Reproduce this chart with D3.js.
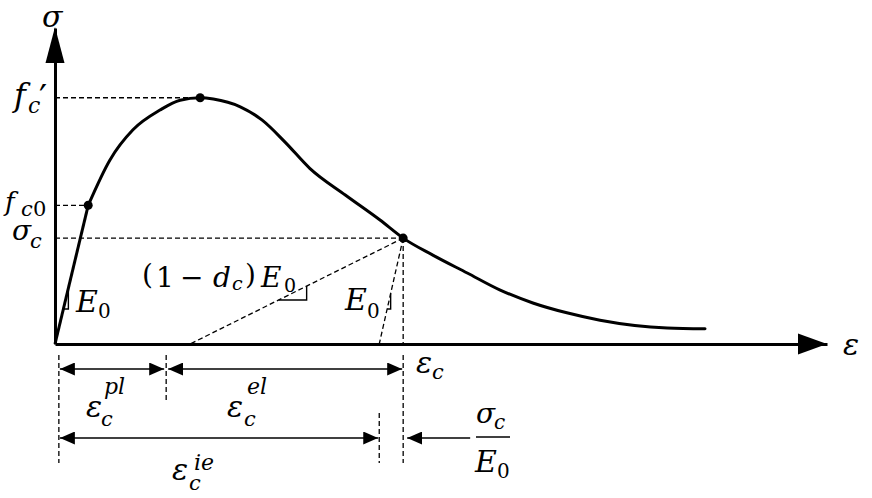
<!DOCTYPE html>
<html><head><meta charset="utf-8">
<script src="https://cdn.jsdelivr.net/npm/d3@7"></script>
<style>body{margin:0;background:#fff} svg{display:block}</style>
</head><body><svg id="c" width="872" height="498"></svg>
<script>
// ---- data (normalised strain / stress units) ----
const curveStrain = [0, 4.3, 7.1, 10.1, 13.6, 16.2, 18.8, 20.5, 24.0, 26.8, 29.8, 33.0, 37.6, 42.1, 45.1, 49.0, 53.4, 57.6, 61.9, 66.3, 70.6, 79.3, 84.2];
const curveStress = [0, 16.9, 22.4, 26.1, 28.5, 29.7, 30.0, 29.85, 28.9, 27.3, 24.6, 21.4, 18.15, 15.1, 12.9, 10.8, 8.65, 6.6, 5.0, 3.8, 2.9, 1.95, 1.85];
const keyNames  = ["fc0", "fc'", "sigma_c"];
const keyStrain = [4.3, 18.8, 45.1];
const keyStress = [16.9, 30.0, 12.9];
const unloadNames  = ["(1-dc)E0", "E0"];
const unloadStrain = [17.5, 42.0];          // strain where the unloading lines reach zero stress
const dimNames  = ["origin", "pl", "ie", "c"];
const dimStrain = [0.5, 14.4, 42.0, 45.1];  // dimension-line positions under the axis
const axisMax = [100, 38.5];

// ---- setup ----
const svg = d3.select("#c");
const x = d3.scaleLinear().domain([0, axisMax[0]]).range([55, 827]);
const y = d3.scaleLinear().domain([0, axisMax[1]]).range([344, 28]);
const FONT = "'DejaVu Serif', serif";

const defs = svg.append("defs");
function marker(id, len, hw) {
  defs.append("marker").attr("id", id).attr("markerUnits", "userSpaceOnUse")
    .attr("viewBox", `0 ${-hw} ${len} ${2*hw}`).attr("refX", len).attr("refY", 0)
    .attr("markerWidth", len).attr("markerHeight", 2*hw).attr("orient", "auto-start-reverse")
    .append("path").attr("d", `M0,${-hw}L${len},0L0,${hw}Z`).attr("fill", "#000");
}
marker("ah", 15, 6.5);

// ---- axes ----
const gx = svg.append("g").attr("transform", `translate(0,${y(0)})`)
  .call(d3.axisBottom(x).tickValues([]).tickSizeOuter(0));
gx.select(".domain").attr("stroke", "#000").attr("stroke-width", 3);
const gy = svg.append("g").attr("transform", `translate(${x(0)},0)`)
  .call(d3.axisLeft(y).tickValues([]).tickSizeOuter(0));
gy.select(".domain").attr("stroke", "#000").attr("stroke-width", 3);
svg.append("path").attr("d", `M${x(axisMax[0])},${y(0)}L${x(axisMax[0])-29},${y(0)-10.5}L${x(axisMax[0])-29},${y(0)+10.5}Z`).attr("fill", "#000");
svg.append("path").attr("d", `M${x(0)},${y(axisMax[1])-1}L${x(0)-9.5},${y(axisMax[1])+35}L${x(0)+9.5},${y(axisMax[1])+35}Z`).attr("fill", "#000");

// ---- dashed guides ----
const dash = (x1, y1, x2, y2) => svg.append("line").attr("x1", x1).attr("y1", y1).attr("x2", x2).attr("y2", y2)
  .attr("stroke", "#000").attr("stroke-width", 1.3).attr("stroke-dasharray", "5,3");
keyStrain.forEach((s, i) => dash(x(0), y(keyStress[i]), x(s), y(keyStress[i])));
dash(x(keyStrain[2]), y(keyStress[2]), x(keyStrain[2]), y(0));
unloadStrain.forEach(s => dash(x(keyStrain[2]), y(keyStress[2]), x(s), y(0)));

// ---- main curve ----
const pts = curveStrain.map((s, i) => [x(s), y(curveStress[i])]);
svg.append("path").attr("d", d3.line()(pts.slice(0, 2)))
  .attr("fill", "none").attr("stroke", "#000").attr("stroke-width", 3);
svg.append("path").attr("d", d3.line().curve(d3.curveMonotoneX)(pts.slice(1)))
  .attr("fill", "none").attr("stroke", "#000").attr("stroke-width", 3).attr("stroke-linecap", "round");
svg.selectAll("circle.key").data(keyStrain).join("circle").attr("class", "key")
  .attr("cx", d => x(d)).attr("cy", (d, i) => y(keyStress[i])).attr("r", 4.5).attr("fill", "#000");

// ---- slope triangles ----
function slopeTri(p0, p1, yAt, dx) {
  const slope = (p1[1] - p0[1]) / (p1[0] - p0[0]);
  const px = p0[0] + (yAt - p0[1]) / slope;
  svg.append("path").attr("d", `M${px},${yAt}L${px+dx},${yAt}L${px+dx},${yAt + slope*dx}`)
    .attr("fill", "none").attr("stroke", "#000").attr("stroke-width", 1.4);
}
slopeTri(pts[0], pts[1], 309, 5);
slopeTri([x(unloadStrain[0]), y(0)], [x(keyStrain[2]), y(keyStress[2])], 300, 28);
slopeTri([x(unloadStrain[1]), y(0)], [x(keyStrain[2]), y(keyStress[2])], 309, 3.5);

// ---- dimension lines ----
const base = y(0);
dash(x(dimStrain[0]), base + 11, x(dimStrain[0]), base + 119);
dash(x(dimStrain[1]), base + 11, x(dimStrain[1]), base + 59);
dash(x(dimStrain[2]), base + 69, x(dimStrain[2]), base + 119);
dash(x(dimStrain[3]), base + 11, x(dimStrain[3]), base + 119);
const arrow = (x1, x2, yy, both) => svg.append("line").attr("x1", x1).attr("y1", yy).attr("x2", x2).attr("y2", yy)
  .attr("stroke", "#000").attr("stroke-width", 1.6)
  .attr("marker-end", "url(#ah)").attr("marker-start", both ? "url(#ah)" : null);
arrow(x(dimStrain[0]) + 1, x(dimStrain[1]) - 2, base + 25, true);
arrow(x(dimStrain[1]) + 2, x(dimStrain[3]) - 1, base + 25, true);
arrow(x(dimStrain[0]) + 1, x(dimStrain[2]) - 1, base + 94, true);
arrow(x(dimStrain[3]) + 67, x(dimStrain[3]) + 4, base + 94, false);

// ---- labels ----
function t(xx, yy, s, size, italic = true) {
  return svg.append("text").attr("x", xx).attr("y", yy).text(s)
    .attr("font-family", FONT).attr("font-size", size)
    .attr("font-style", italic ? "italic" : "normal").attr("fill", "#000");
}
t(42, 27, "σ", 30);
t(843, 355, "ε", 30);
// f'c
t(14, 106, "f", 32); t(28, 113, "c", 22); t(39, 110, "′", 36, false);
// fc0 (single text with tspans)
{
  const el = svg.append("text").attr("font-family", FONT).attr("fill", "#000");
  el.append("tspan").attr("x", 5).attr("y", 211).attr("font-size", 26).attr("font-style", "italic").text("f");
  el.append("tspan").attr("x", 21).attr("y", 216).attr("font-size", 21).attr("font-style", "italic").text("c");
  el.append("tspan").attr("x", 33).attr("y", 216).attr("font-size", 21).text("0");
}
// sigma c
t(12, 240, "σ", 28); t(30, 248, "c", 21);
// E0 near origin
t(76, 312, "E", 30); t(98, 318, "0", 20, false);
// (1-dc)E0
t(142, 284, "(", 28, false); t(156, 287, "1", 28, false); t(180, 287, "−", 28, false);
t(213, 287, "d", 28); t(232, 290, "c", 19); t(245, 284, ")", 28, false);
t(261, 287, "E", 28); t(284, 292, "0", 19, false);
// E0 unloading
t(345, 310, "E", 30); t(367, 318, "0", 20, false);
// eps c
t(416, 373, "ε", 30); t(432, 379, "c", 21);
// eps pl / el / ie
t(86, 417, "ε", 30); t(101, 426, "c", 21); t(104, 394, "pl", 22);
t(227, 417, "ε", 30); t(244, 426, "c", 21); t(247, 394, "el", 22);
t(172, 480, "ε", 30); t(189, 490, "c", 21); t(194, 470, "ie", 22);
// sigma_c / E0
t(476, 423, "σ", 28); t(494, 429, "c", 20);
svg.append("line").attr("x1", 476).attr("x2", 510).attr("y1", 437).attr("y2", 437).attr("stroke", "#000").attr("stroke-width", 1.5);
t(475, 472, "E", 30); t(497, 478, "0", 20, false);
</script></body></html>
